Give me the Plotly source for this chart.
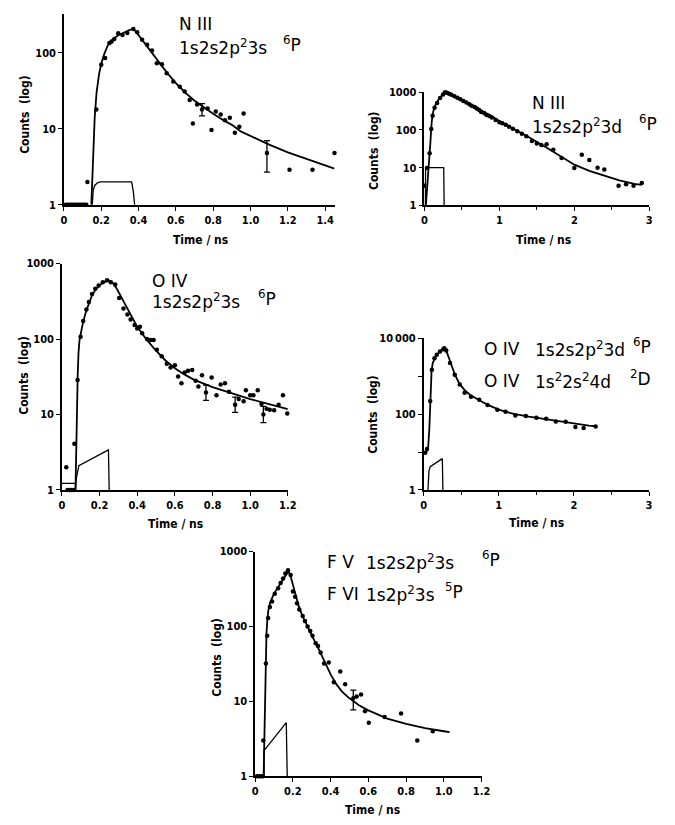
import plotly.graph_objects as go

# ---------------- N III 1s2s2p2 3s 6P ----------------
n3s_t = [0.01, 0.02, 0.03, 0.04, 0.05, 0.06, 0.07, 0.08, 0.09, 0.10, 0.11, 0.12, 0.126, 0.174,
         0.20, 0.221, 0.244, 0.256, 0.27, 0.291, 0.314, 0.34, 0.372, 0.393, 0.419, 0.446,
         0.472, 0.498, 0.525, 0.551, 0.586, 0.621, 0.647, 0.674, 0.691, 0.714, 0.77,
         0.791, 0.814, 0.84, 0.863, 0.889, 0.916, 0.94, 0.963, 1.209, 1.332, 1.45]
n3s_counts = [1, 1, 1, 1, 1, 1, 1, 1, 1, 1, 1, 1, 2.0, 18,
              70, 86, 135, 142, 153, 182, 172, 183, 207, 187, 149, 128,
              108, 73, 71, 54, 42, 36, 31, 24, 11.8, 21, 18.5,
              9.7, 17, 15.5, 13, 14, 8.9, 10.7, 16, 2.9, 2.9, 4.8]
n3s_err_t = [0.74, 1.088]
n3s_err_y = [18, 4.8]
n3s_err_lo = [14.8, 2.7]
n3s_err_hi = [21.5, 7.0]
n3s_fit_t = [0.147, 0.152, 0.158, 0.165, 0.175, 0.188, 0.20, 0.215, 0.235, 0.26, 0.29, 0.32,
             0.35, 0.37, 0.38, 0.40, 0.43, 0.46, 0.50, 0.55, 0.60, 0.65, 0.70, 0.75, 0.80,
             0.85, 0.90, 0.95, 1.00, 1.10, 1.20, 1.30, 1.40, 1.45]
n3s_fit = [1.0, 2.0, 5.0, 14, 30, 52, 72, 95, 126, 150, 170, 185,
           200, 207, 198, 172, 138, 110, 80, 56, 40, 30, 23.5, 19, 15.8,
           13.2, 11.3, 9.2, 8.0, 6.2, 4.9, 4.0, 3.25, 3.0]
n3s_pulse_t = [0.152, 0.157, 0.165, 0.18, 0.195, 0.363, 0.372, 0.379]
n3s_pulse = [1.0, 1.55, 1.8, 1.95, 2.0, 2.0, 1.5, 1.0]

# ---------------- N III 1s2s2p2 3d 6P ----------------
n3d_t = [0.0, 0.035, 0.07, 0.092, 0.11, 0.136, 0.17, 0.21, 0.25, 0.276, 0.30, 0.33, 0.36,
         0.40, 0.44, 0.48, 0.52, 0.56, 0.60, 0.63, 0.67, 0.70, 0.73, 0.757, 0.80, 0.83,
         0.866, 0.90, 0.95, 1.00, 1.04, 1.085, 1.13, 1.18, 1.24, 1.30, 1.36, 1.435, 1.50,
         1.56, 1.63, 1.72, 1.83, 2.00, 2.10, 2.20, 2.31, 2.40, 2.59, 2.69, 2.79, 2.90]
n3d_counts = [3.3, 9.8, 24, 107, 240, 390, 520, 710, 870, 1000, 980, 920, 860,
              790, 720, 650, 590, 540, 480, 440, 405, 370, 340, 300, 280, 250,
              235, 215, 185, 160, 150, 138, 122, 108, 92, 80, 68, 51, 44,
              40, 42, 30, 18, 9.8, 22, 16, 10, 8.9, 3.3, 3.6, 3.3, 3.9]
n3d_fit_t = [0.02, 0.04, 0.06, 0.08, 0.09, 0.10, 0.12, 0.15, 0.20, 0.25, 0.28, 0.32, 0.40,
             0.50, 0.60, 0.70, 0.80, 0.90, 1.00, 1.20, 1.40, 1.60, 1.80, 2.00, 2.20, 2.40,
             2.60, 2.80, 2.90]
n3d_fit = [1, 3, 10, 45, 100, 180, 320, 470, 700, 900, 1000, 930, 780,
           610, 480, 380, 300, 230, 172, 105, 63, 37, 21, 12, 8.2, 6.0,
           4.6, 3.7, 3.5]
n3d_pulse_t = [0.012, 0.016, 0.258, 0.264]
n3d_pulse = [1, 10, 10, 1]

# ---------------- O IV 1s2s2p2 3s 6P ----------------
o3s_t = [0.023, 0.03, 0.04, 0.05, 0.06, 0.066, 0.083, 0.099, 0.113, 0.13, 0.143, 0.16,
         0.177, 0.195, 0.217, 0.24, 0.26, 0.283, 0.304, 0.327, 0.348, 0.365, 0.386, 0.40,
         0.414, 0.426, 0.452, 0.47, 0.487, 0.504, 0.53, 0.557, 0.577, 0.60, 0.617, 0.635,
         0.652, 0.67, 0.692, 0.71, 0.725, 0.744, 0.795, 0.821, 0.843, 0.866, 0.887,
         0.939, 0.965, 0.977, 1.0, 1.017, 1.04, 1.06, 1.087, 1.104, 1.127, 1.151,
         1.174, 1.197]
o3s_counts = [2.0, 1, 1, 1, 1, 4.1, 28.6, 107, 174, 246, 310, 395,
              464, 512, 565, 600, 565, 530, 350, 254, 212, 182, 154, 138,
              145, 119, 100, 97, 97, 72, 59, 47, 42, 45, 32, 26,
              36, 38, 39, 28, 23.5, 33, 31, 18, 25, 26, 20,
              16, 15, 21, 18, 18, 21, 13.8, 11.9, 11.6, 11.4, 13.5,
              18, 10.3]
o3s_err_t = [0.765, 0.92, 1.07]
o3s_err_y = [19.5, 13.5, 10.0]
o3s_err_lo = [15.4, 10.7, 7.8]
o3s_err_hi = [24.6, 17.0, 12.8]
o3s_fit_t = [0.072, 0.075, 0.078, 0.081, 0.084, 0.088, 0.093, 0.10, 0.113, 0.13, 0.145,
             0.16, 0.18, 0.20, 0.22, 0.24, 0.255, 0.27, 0.29, 0.31, 0.33, 0.36, 0.40, 0.45,
             0.50, 0.55, 0.60, 0.65, 0.70, 0.80, 0.90, 1.00, 1.10, 1.20]
o3s_fit = [1.0, 3, 8, 18, 35, 65, 95, 118, 170, 240, 310,
           380, 455, 515, 560, 590, 595, 555, 470, 380, 300, 215, 145, 98,
           70, 52, 41, 34, 29, 23, 19, 16, 13.7, 11.8]
o3s_pulse_t = [0.0, 0.072, 0.072, 0.076, 0.09, 0.247, 0.251]
o3s_pulse = [1.22, 1.22, 1.0, 1.4, 2.1, 3.4, 1.0]

# ---------------- O IV 1s2s2p2 3d 6P / 1s2 2s2 4d 2D ----------------
o3d_t = [0.02, 0.044, 0.087, 0.109, 0.144, 0.174, 0.218, 0.26, 0.275, 0.30, 0.35, 0.414,
         0.48, 0.545, 0.63, 0.74, 0.85, 0.98, 1.09, 1.22, 1.36, 1.50, 1.63, 1.76, 1.89,
         2.02, 2.13, 2.29]
o3d_counts = [9.6, 12, 222, 1490, 3000, 3700, 4500, 5150, 5500, 4800, 2230, 1100,
              605, 370, 290, 240, 175, 130, 115, 92, 90, 80, 76, 64, 63,
              46, 43, 47]
o3d_fit_t = [0.03, 0.06, 0.075, 0.085, 0.095, 0.105, 0.12, 0.15, 0.20, 0.25, 0.275, 0.30,
             0.33, 0.37, 0.42, 0.48, 0.55, 0.62, 0.70, 0.80, 0.90, 1.00, 1.10, 1.20, 1.40,
             1.60, 1.80, 2.00, 2.20, 2.30]
o3d_fit = [9, 14, 40, 180, 700, 1400, 2200, 3100, 4200, 5100, 5500, 4800,
           3300, 1900, 1050, 620, 420, 320, 255, 200, 160, 132, 115, 102, 86,
           75, 65, 56, 50, 48]
o3d_pulse_t = [0.057, 0.07, 0.087, 0.248, 0.256]
o3d_pulse = [1, 3.2, 4.1, 6.7, 1]

# ---------------- F V 1s2s2p2 3s 6P / F VI 1s2p2 3s 5P ----------------
f5_t = [0.01, 0.02, 0.03, 0.04, 0.043, 0.057, 0.064, 0.069, 0.078, 0.09, 0.104, 0.122,
        0.135, 0.148, 0.16, 0.174, 0.188, 0.20, 0.212, 0.222, 0.234, 0.252, 0.264, 0.278,
        0.292, 0.304, 0.321, 0.333, 0.347, 0.365, 0.39, 0.417, 0.451, 0.477, 0.538,
        0.561, 0.582, 0.602, 0.686, 0.773, 0.859, 0.941]
f5_counts = [1, 1, 1, 1, 3.0, 32, 75, 130, 182, 215, 273, 325,
             380, 437, 510, 565, 487, 294, 250, 205, 168, 138, 118, 100,
             87, 75, 60, 55, 45, 32, 33, 18, 25, 17, 11.6,
             12.4, 7.4, 5.2, 6.2, 6.9, 3.0, 4.0]
f5_err_t = [0.52]
f5_err_y = [11.0]
f5_err_lo = [7.7]
f5_err_hi = [14.2]
f5_fit_t = [0.045, 0.048, 0.051, 0.055, 0.06, 0.065, 0.07, 0.08, 0.09, 0.10, 0.12, 0.14,
            0.16, 0.175, 0.185, 0.195, 0.21, 0.23, 0.25, 0.28, 0.31, 0.34, 0.37, 0.40,
            0.43, 0.46, 0.50, 0.55, 0.60, 0.70, 0.80, 0.90, 1.00, 1.03]
f5_fit = [1, 3, 10, 35, 80, 125, 165, 210, 245, 275, 330, 390,
          470, 540, 500, 400, 280, 190, 140, 95, 68, 48, 33, 23,
          17, 13.5, 11.0, 8.9, 7.6, 5.9, 5.0, 4.4, 4.0, 3.9]
f5_pulse_t = [0.047, 0.047, 0.165, 0.17]
f5_pulse = [1, 2.2, 5.2, 1]

# ---------------- figure geometry ----------------
W, H = 675, 825
TICK_FONT = dict(family="DejaVu Sans Condensed, DejaVu Sans", size=11, color="black", weight="bold")
TITLE_FONT = dict(family="DejaVu Sans Condensed, DejaVu Sans", size=12, color="black", weight="bold")
LABEL_FONT = dict(family="DejaVu Sans", size=17, color="black")

fig = go.Figure()


def add_panel(i, box, xrange, xticks, xticktext, yrange_log, yticks, yticktext,
              t, counts, fit_t, fit, pulse_t, pulse,
              err=None, xminor=None):
    """box = (left, top, right, bottom) in pixels."""
    xa = "x" if i == 1 else f"x{i}"
    ya = "y" if i == 1 else f"y{i}"
    left, top, right, bottom = box
    common = dict(showline=True, linecolor="black", linewidth=1.5, showgrid=False,
                  zeroline=False, ticks="outside", ticklen=4, tickwidth=1.3,
                  tickcolor="black", tickfont=TICK_FONT)
    xkw = dict(common, domain=[left / W, right / W], range=xrange, anchor=ya,
               tickvals=xticks, ticktext=xticktext)
    if xminor:
        xkw["minor"] = dict(dtick=xminor, ticks="outside", ticklen=3, tickcolor="black")
    ykw = dict(common, domain=[1 - bottom / H, 1 - top / H], type="log",
               range=yrange_log, anchor=xa, tickvals=yticks, ticktext=yticktext)
    fig.update_layout(**{("xaxis" if i == 1 else f"xaxis{i}"): xkw,
                         ("yaxis" if i == 1 else f"yaxis{i}"): ykw})

    fig.add_trace(go.Scatter(x=pulse_t, y=pulse, mode="lines", xaxis=xa, yaxis=ya,
                             line=dict(color="black", width=1.3), showlegend=False))
    fig.add_trace(go.Scatter(x=fit_t, y=fit, mode="lines", xaxis=xa, yaxis=ya,
                             line=dict(color="black", width=1.8), showlegend=False))
    fig.add_trace(go.Scatter(x=t, y=counts, mode="markers", xaxis=xa, yaxis=ya,
                             marker=dict(color="black", size=4.5), cliponaxis=False,
                             showlegend=False))
    if err:
        et, ey, elo, ehi = err
        fig.add_trace(go.Scatter(
            x=et, y=ey, mode="markers", xaxis=xa, yaxis=ya, cliponaxis=False,
            marker=dict(color="black", size=4.5), showlegend=False,
            error_y=dict(type="data", symmetric=False,
                         array=[h - v for h, v in zip(ehi, ey)],
                         arrayminus=[v - l for l, v in zip(elo, ey)],
                         color="black", thickness=1.3, width=3)))


def label(x_px, y_px, text, font=LABEL_FONT, anchor="left", angle=0):
    fig.add_annotation(x=x_px / W, y=1 - y_px / H, xref="paper", yref="paper",
                       text=text, showarrow=False, xanchor=anchor, yanchor="middle",
                       font=font, textangle=angle)


dec_ticks = [1, 10, 100, 1000, 10000]

add_panel(1, (62, 8, 337.5, 202), [0, 1.45],
          [0, 0.2, 0.4, 0.6, 0.8, 1.0, 1.2, 1.4],
          ["0", "0.2", "0.4", "0.6", "0.8", "1.0", "1.2", "1.4"],
          [0, 2.515], dec_ticks[:3], ["1", "10", "100"],
          n3s_t, n3s_counts, n3s_fit_t, n3s_fit, n3s_pulse_t, n3s_pulse,
          err=(n3s_err_t, n3s_err_y, n3s_err_lo, n3s_err_hi))

add_panel(2, (429, 87.7, 658, 202.5), [0, 3], [0, 1, 2, 3], ["0", "1", "2", "3"],
          [0, 3], dec_ticks[:4], ["1", "10", "100", "1000"],
          n3d_t, n3d_counts, n3d_fit_t, n3d_fit, n3d_pulse_t, n3d_pulse, xminor=0.5)

add_panel(3, (60, 261.7, 290, 491.7), [0, 1.2],
          [0, 0.2, 0.4, 0.6, 0.8, 1.0, 1.2],
          ["0", "0.2", "0.4", "0.6", "0.8", "1.0", "1.2"],
          [0, 3], dec_ticks[:4], ["1", "10", "100", "1000"],
          o3s_t, o3s_counts, o3s_fit_t, o3s_fit, o3s_pulse_t, o3s_pulse,
          err=(o3s_err_t, o3s_err_y, o3s_err_lo, o3s_err_hi))

add_panel(4, (428.3, 337.7, 657.7, 491.7), [0, 3], [0, 1, 2, 3], ["0", "1", "2", "3"],
          [0, 4], dec_ticks, ["1", "", "100", "", "10\u2009000"],
          o3d_t, o3d_counts, o3d_fit_t, o3d_fit, o3d_pulse_t, o3d_pulse, xminor=0.5)

add_panel(5, (256.7, 554.3, 487.3, 782.7), [0, 1.2],
          [0, 0.2, 0.4, 0.6, 0.8, 1.0, 1.2],
          ["0", "0.2", "0.4", "0.6", "0.8", "1.0", "1.2"],
          [0, 3], dec_ticks[:4], ["1", "10", "100", "1000"],
          f5_t, f5_counts, f5_fit_t, f5_fit, f5_pulse_t, f5_pulse,
          err=(f5_err_t, f5_err_y, f5_err_lo, f5_err_hi))

# axis titles
for xc, yc in [(201, 238), (550, 238), (176, 526), (543, 525), (376, 817)]:
    label(xc, yc, "Time / ns", font=TITLE_FONT, anchor="center")
for xc, yc in [(23, 110), (377, 147), (21, 375), (377, 415), (217, 662)]:
    label(xc, yc, "Counts\u00a0 (log)", font=TITLE_FONT, anchor="center", angle=-90)

# level designations
label(177, 18, "N III")
label(177, 42, "1s2s2p<sup>2</sup>3s")
label(283, 39, "<sup>6</sup>P")

label(537, 99, "N III")
label(537, 122, "1s2s2p<sup>2</sup>3d")
label(645, 119, "<sup>6</sup>P")

label(150, 279, "O IV")
label(150, 300, "1s2s2p<sup>2</sup>3s")
label(258, 297, "<sup>6</sup>P")

label(488, 348, "O IV")
label(540, 348, "1s2s2p<sup>2</sup>3d")
label(639, 345, "<sup>6</sup>P")
label(488, 381, "O IV")
label(540, 381, "1s<sup>2</sup>2s<sup>2</sup>4d")
label(636, 378, "<sup>2</sup>D")

label(328, 565, "F V")
label(368, 565, "1s2s2p<sup>2</sup>3s")
label(486, 562, "<sup>6</sup>P")
label(328, 597, "F VI")
label(368, 597, "1s2p<sup>2</sup>3s")
label(448, 594, "<sup>5</sup>P")

fig.update_layout(width=W, height=H, margin=dict(l=0, r=0, t=0, b=0),
                  paper_bgcolor="white", plot_bgcolor="white", showlegend=False)

fig.write_html("out.html")
